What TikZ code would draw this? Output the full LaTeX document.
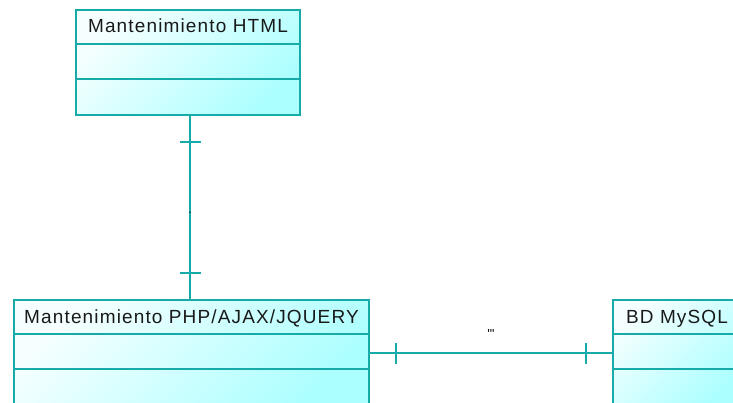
\documentclass[tikz,border=0pt]{standalone}
\usepackage{fontspec}
\setmainfont{Liberation Sans}
\newfontfamily\titlefont{Liberation Sans}[LetterSpace=6]
\usetikzlibrary{calc,decorations.markings}
\definecolor{erline}{RGB}{22,170,168}
\definecolor{boxhi}{RGB}{246,255,255}
\definecolor{boxlo}{RGB}{172,255,255}
\tikzset{
  entity/.style={draw=erline, line width=2pt, anchor=north west, inner sep=0pt,
    top color=boxhi, bottom color=boxlo, shading angle=45, minimum height=105pt},
  title/.style={anchor=base, inner sep=0pt, text=black!90, font=\titlefont\fontsize{19}{22}\selectfont},
  divider/.style={draw=erline, line width=2pt},
  onetoone/.style={draw=erline, line width=2pt, postaction={decorate}, decoration={markings,
    mark=at position 26pt with {\draw[erline, line width=2pt] (0,-10.5pt) -- (0,10.5pt);},
    mark=at position -26pt with {\draw[erline, line width=2pt] (0,-10.5pt) -- (0,10.5pt);}}}
}
\begin{document}
\begin{tikzpicture}[x=1pt,y=-1pt]
\useasboundingbox (0,0) rectangle (733,403);
\clip (0,0) rectangle (733,403);
% entidades
\node[entity, minimum width=224pt] (html) at (75,9) {};
\node[entity, minimum width=355pt] (php) at (13,299) {};
\node[entity, minimum width=128pt] (bd) at (612,299) {};
\foreach \e in {html,php,bd}{
  \draw[divider] ([yshift=-35pt]\e.north west) -- ([yshift=-35pt]\e.north east);
  \draw[divider] ([yshift=-70pt]\e.north west) -- ([yshift=-70pt]\e.north east);
}
\node[title] (htmltitle) at ($(html.north)+(0,24)$) {Mantenimiento HTML};
\node[title] (phptitle) at ($(php.north)+(0,24)$) {Mantenimiento PHP/AJAX/JQUERY};
\node[title] (bdtitle) at ($(bd.north)+(0,24)$) {BD MySQL};
% relaciones
\draw[onetoone] ([xshift=2pt]html.south) -- ([xshift=2pt]html.south |- php.north)
  node[pos=0.53, inner sep=0pt, font=\fontsize{12}{12}\selectfont] (htmlrel) {.};
\draw[onetoone] ($(php.north east)+(0,54)$) -- ($(bd.north west)+(0,54)$)
  node[midway, above=14pt, inner sep=0pt, font=\fontsize{13}{13}\selectfont] (bdrel) {\textquotesingle\textquotedbl};
\end{tikzpicture}
\end{document}
